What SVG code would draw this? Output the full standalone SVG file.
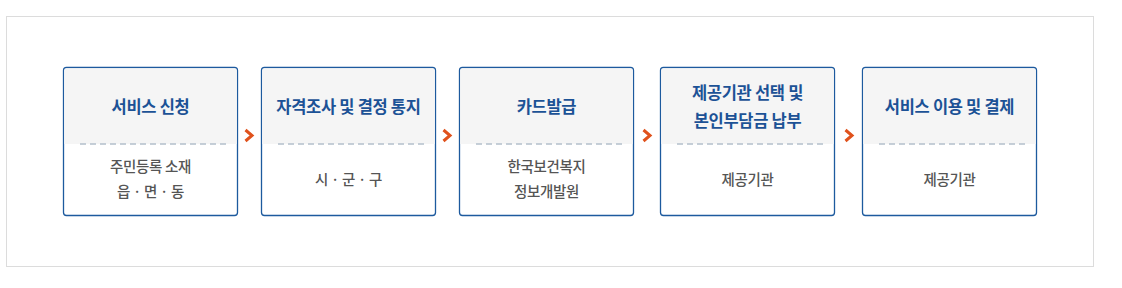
<svg xmlns="http://www.w3.org/2000/svg" width="1122" height="288" viewBox="0 0 1122 288">
<style>
.box{fill:#ffffff;stroke:#1d5a9e;stroke-width:1.3}
.head{fill:#f5f5f5}
.dash{stroke:#b4c0cc;stroke-width:1.5;stroke-dasharray:6 4}
.t{font-family:"Noto Sans CJK KR","Noto Sans",sans-serif;font-size:16.5px;font-weight:bold;fill:#1c5296;text-anchor:middle;letter-spacing:-0.3px}
.s{font-family:"Noto Sans CJK KR","Noto Sans",sans-serif;font-size:14.5px;font-weight:500;fill:#555555;text-anchor:middle;letter-spacing:-0.3px}
.arr{fill:none;stroke:#e0521c;stroke-width:3;stroke-linejoin:miter}
</style>
<rect x="6.5" y="16.5" width="1087" height="250" fill="#ffffff" stroke="#dcdcdc" stroke-width="1"/>
<g id="n1">
<rect class="box" x="63.5" y="67.5" width="174" height="148" rx="3"/>
<path class="head" d="M64.2 70.5a2.3 2.3 0 0 1 2.3-2.3h168a2.3 2.3 0 0 1 2.3 2.3v73.5h-172.6z"/>
<line class="dash" x1="80" y1="144" x2="226" y2="144"/>
<text class="t" x="150.5" y="113">서비스 신청</text>
<text class="s" x="150.5" y="172">주민등록 소재</text>
<text class="s" x="150.5" y="197">읍 · 면 · 동</text>
</g>
<g id="n2">
<rect class="box" x="261.5" y="67.5" width="174" height="148" rx="3"/>
<path class="head" d="M262.2 70.5a2.3 2.3 0 0 1 2.3-2.3h168a2.3 2.3 0 0 1 2.3 2.3v73.5h-172.6z"/>
<line class="dash" x1="278" y1="144" x2="424" y2="144"/>
<text class="t" x="348.5" y="113">자격조사 및 결정 통지</text>
<text class="s" x="348.5" y="185">시 · 군 · 구</text>
</g>
<g id="n3">
<rect class="box" x="459.5" y="67.5" width="174" height="148" rx="3"/>
<path class="head" d="M460.2 70.5a2.3 2.3 0 0 1 2.3-2.3h168a2.3 2.3 0 0 1 2.3 2.3v73.5h-172.6z"/>
<line class="dash" x1="476" y1="144" x2="622" y2="144"/>
<text class="t" x="546.5" y="113">카드발급</text>
<text class="s" x="546.5" y="172">한국보건복지</text>
<text class="s" x="546.5" y="197">정보개발원</text>
</g>
<g id="n4">
<rect class="box" x="660.5" y="67.5" width="174" height="148" rx="3"/>
<path class="head" d="M661.2 70.5a2.3 2.3 0 0 1 2.3-2.3h168a2.3 2.3 0 0 1 2.3 2.3v73.5h-172.6z"/>
<line class="dash" x1="677" y1="144" x2="823" y2="144"/>
<text class="t" x="747.5" y="99">제공기관 선택 및</text>
<text class="t" x="747.5" y="127">본인부담금 납부</text>
<text class="s" x="747.5" y="185">제공기관</text>
</g>
<g id="n5">
<rect class="box" x="862.5" y="67.5" width="174" height="148" rx="3"/>
<path class="head" d="M863.2 70.5a2.3 2.3 0 0 1 2.3-2.3h168a2.3 2.3 0 0 1 2.3 2.3v73.5h-172.6z"/>
<line class="dash" x1="879" y1="144" x2="1025" y2="144"/>
<text class="t" x="949.5" y="113">서비스 이용 및 결제</text>
<text class="s" x="949.5" y="185">제공기관</text>
</g>
<g id="connectors">
<path class="arr" d="M245.5 130l6.5 5.5l-6.5 5.5"/>
<path class="arr" d="M443.5 130l6.5 5.5l-6.5 5.5"/>
<path class="arr" d="M643.5 130l6.5 5.5l-6.5 5.5"/>
<path class="arr" d="M845.5 130l6.5 5.5l-6.5 5.5"/>
</g>
</svg>
